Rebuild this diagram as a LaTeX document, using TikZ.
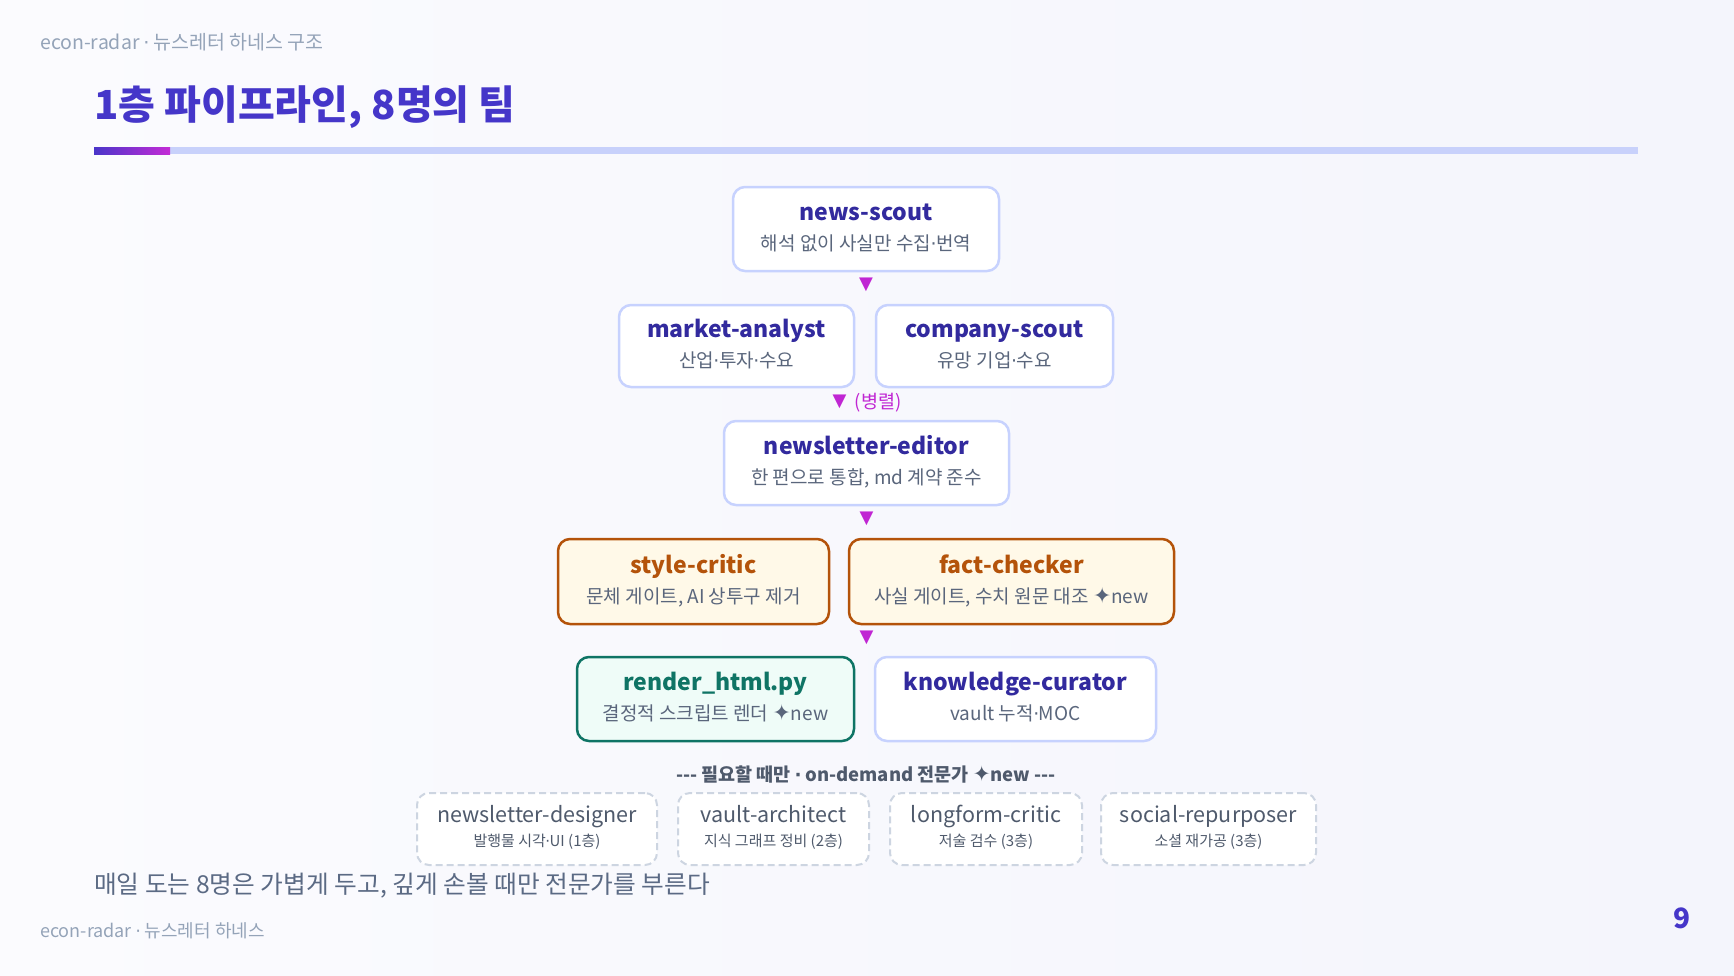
\documentclass[tikz,border=0pt]{standalone}
\usepackage{fontspec}
\setmainfont{Noto Sans CJK KR}
\newfontfamily\symfont{DejaVu Sans}
\usetikzlibrary{calc}
\definecolor{bgA}{HTML}{FBFBFE}
\definecolor{bgB}{HTML}{F4F5FC}
\definecolor{hdr}{HTML}{94A3B8}
\definecolor{ttlc}{HTML}{4536C9}
\definecolor{barga}{HTML}{4A35C9}
\definecolor{bargb}{HTML}{C42BD6}
\definecolor{barl}{HTML}{C8D1FB}
\definecolor{nbord}{HTML}{C7D2FE}
\definecolor{ntitle}{HTML}{322A9E}
\definecolor{nsub}{HTML}{5A667C}
\definecolor{amb}{HTML}{B4530A}
\definecolor{ambfill}{HTML}{FFF9E8}
\definecolor{tealc}{HTML}{0F7465}
\definecolor{tealfill}{HTML}{EFFCF8}
\definecolor{dsh}{HTML}{CDD5E1}
\definecolor{dtxt}{HTML}{4F5A6C}
\definecolor{mag}{HTML}{C026D3}
\definecolor{bodyc}{HTML}{5B6A84}
\newcommand\fsz[1]{\fontsize{#1}{#1}\selectfont}
\newcommand\md{{\symfont\kern-0.5pt·\kern-0.5pt}}
\newcommand\spark{{\symfont\scalebox{1.15}{✦}}}
\tikzset{
  box/.style={draw=nbord, line width=2.5, fill=white, rounded corners=12, inner sep=0},
  ambbox/.style={box, draw=amb, fill=ambfill},
  tealbox/.style={box, draw=tealc, fill=tealfill},
  dbox/.style={box, draw=dsh, fill=white, dash pattern=on 7 off 4, line width=2},
  ttl/.style={font=\fsz{23}\bfseries, text=ntitle, inner sep=0, text height=0.72em, text depth=0.2em},
  ambttl/.style={ttl, text=amb},
  tealttl/.style={ttl, text=tealc},
  sub/.style={font=\fsz{19}, text=nsub, inner sep=0, text height=0.8em, text depth=0.1em},
  dttl/.style={font=\fsz{21.5}, text=dtxt, inner sep=0, text height=0.72em, text depth=0.2em},
  dsub/.style={font=\fsz{15}, text=dtxt, inner sep=0, text height=0.8em, text depth=0.1em},
  tri/.style={font=\symfont\fsz{18}, text=mag, inner sep=0},
  hdrtxt/.style={font=\fsz{19.5}, text=hdr, inner sep=0}
}
\begin{document}
\begin{tikzpicture}[x=1pt,y=-1pt]
\useasboundingbox (0,0) rectangle (1734,975);
\shade[left color=bgA, right color=bgB] (0,0) rectangle (1734,975);
% header and title
\node[hdrtxt, anchor=base west] (hdr) at (40,49) {econ-radar \md{} 뉴스레터 하네스 구조};
\node[anchor=base west, font=\fsz{40}\bfseries, text=ttlc, inner sep=0] (title) at (94,119) {1층 파이프라인, 8명의 팀};
\fill[barl] (170,147) rectangle (1638,154);
\shade[left color=barga, right color=bargb] (94,147) rectangle (170,154);
% boxes
\node[box, minimum width=266, minimum height=84] (ns) at (866,229) {};
\node[box, minimum width=235, minimum height=82] (ma) at (736.5,346) {};
\node[box, minimum width=237, minimum height=82] (cs) at (994.5,346) {};
\node[box, minimum width=285, minimum height=84] (ne) at (866.5,463) {};
\node[ambbox, minimum width=271, minimum height=85] (sc) at (693.5,581.5) {};
\node[ambbox, minimum width=325, minimum height=85] (fc) at (1011.5,581.5) {};
\node[tealbox, minimum width=277, minimum height=84] (rh) at (715.5,699) {};
\node[box, minimum width=281, minimum height=84] (kc) at (1015.5,699) {};
% labels
\node[ttl] (nsT) at ($(ns.center)+(0,-11)$) {news-scout};
\node[sub] (nsS) at ($(ns.center)+(0,18)$) {해석 없이 사실만 수집\md 번역};
\node[ttl] (maT) at ($(ma.center)+(0,-11)$) {market-analyst};
\node[sub] (maS) at ($(ma.center)+(0,18)$) {산업\md 투자\md 수요};
\node[ttl] (csT) at ($(cs.center)+(0,-11)$) {company-scout};
\node[sub] (csS) at ($(cs.center)+(0,18)$) {유망 기업\md 수요};
\node[ttl] (neT) at ($(ne.center)+(0,-11)$) {newsletter-editor};
\node[sub] (neS) at ($(ne.center)+(0,18)$) {한 편으로 통합, md 계약 준수};
\node[ambttl] (scT) at ($(sc.center)+(0,-11)$) {style-critic};
\node[sub] (scS) at ($(sc.center)+(0,18)$) {문체 게이트, AI 상투구 제거};
\node[ambttl] (fcT) at ($(fc.center)+(0,-11)$) {fact-checker};
\node[sub] (fcS) at ($(fc.center)+(0,18)$) {사실 게이트, 수치 원문 대조 \spark new};
\node[tealttl] (rhT) at ($(rh.center)+(0,-11)$) {render\_html.py};
\node[sub] (rhS) at ($(rh.center)+(0,18)$) {결정적 스크립트 렌더 \spark new};
\node[ttl] (kcT) at ($(kc.center)+(0,-11)$) {knowledge-curator};
\node[sub] (kcS) at ($(kc.center)+(0,18)$) {vault 누적\md MOC};
% flow markers
\node[tri] (t1) at ($(ns.south)!0.5!(ns.south |- ma.north)+(0,-3)$) {▼};
\node[tri] (t2) at ($(ne.north)+(-27,-18)$) {▼};
\node[anchor=west, font=\fsz{18.5}, text=mag, inner sep=0] (par) at ($(t2.east)+(8,1)$) {(병렬)};
\node[tri] (t3) at ($(ne.south)!0.5!(ne.south |- sc.north)+(0,-3)$) {▼};
\node[tri] (t4) at ($(sc.south -| ne.south)!0.5!(rh.north -| ne.south)+(0,-3)$) {▼};
% on-demand
\node[anchor=base, font=\fsz{18.5}\bfseries, text=dtxt, inner sep=0] (od) at (866,781) {-\kern0pt-\kern0pt- 필요할 때만 \md{} on-demand 전문가 \spark new -\kern0pt-\kern0pt-};
\node[dbox, minimum width=240, minimum height=72] (nd) at (537,829) {};
\node[dbox, minimum width=191, minimum height=72] (va) at (773.5,829) {};
\node[dbox, minimum width=192, minimum height=72] (lc) at (986,829) {};
\node[dbox, minimum width=215, minimum height=72] (sr) at (1208.5,829) {};
\node[dttl] (ndT) at ($(nd.center)+(0,-9)$) {newsletter-designer};
\node[dsub] (ndS) at ($(nd.center)+(0,14)$) {발행물 시각\md UI (1층)};
\node[dttl] (vaT) at ($(va.center)+(0,-9)$) {vault-architect};
\node[dsub] (vaS) at ($(va.center)+(0,14)$) {지식 그래프 정비 (2층)};
\node[dttl] (lcT) at ($(lc.center)+(0,-9)$) {longform-critic};
\node[dsub] (lcS) at ($(lc.center)+(0,14)$) {저술 검수 (3층)};
\node[dttl] (srT) at ($(sr.center)+(0,-9)$) {social-repurposer};
\node[dsub] (srS) at ($(sr.center)+(0,14)$) {소셜 재가공 (3층)};
% footer
\node[anchor=base west, font=\fsz{24.7}, text=bodyc, inner sep=0] (msg) at (94,893) {매일 도는 8명은 가볍게 두고, 깊게 손볼 때만 전문가를 부른다};
\node[hdrtxt, anchor=base west, font=\fsz{18}] (foot) at (40,937) {econ-radar \md{} 뉴스레터 하네스};
\node[anchor=base, font=\fsz{28}\bfseries, text=ttlc, inner sep=0] (pg) at (1682,928) {9};
\end{tikzpicture}
\end{document}
